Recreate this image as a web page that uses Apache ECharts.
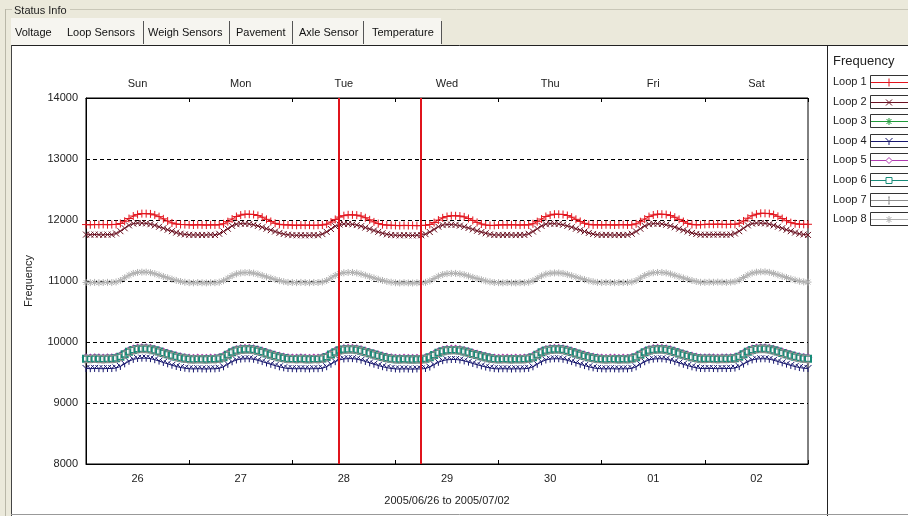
<!DOCTYPE html>
<html>
<head>
<meta charset="utf-8">
<script src="https://cdn.jsdelivr.net/npm/echarts@6/dist/echarts.min.js"></script>
<style>
html,body{margin:0;padding:0;background:#ebe9db;}
#chart{width:908px;height:516px;}
</style>
</head>
<body>
<div id="chart"></div>
<script>
// ---------- data ----------
const dateLabels = ['26','27','28','29','30','01','02'];
const dayNames = ['Sun','Mon','Tue','Wed','Thu','Fri','Sat'];
const rangeLabel = '2005/06/26 to 2005/07/02';
const yTitle = 'Frequency';
const legendTitle = 'Frequency';
const tabNames = ['Voltage','Loop Sensors','Weigh Sensors','Pavement','Axle Sensor','Temperature'];
const groupTitle = 'Status Info';
const markerTimes = [58.9, 77.9]; // hours from 2005/06/26 00:00
const seriesNames = ['Loop 1','Loop 2','Loop 3','Loop 4','Loop 5','Loop 6','Loop 7','Loop 8'];

// hourly samples, 2005/06/26 00:00 .. 2005/07/03 00:00
const loop1 = [
11925,11922,11926,11924,11927,11923,11925,11928,11943,11979,12024,12065,12091,12105,12104,12100,12083,12055,12019,11983,11952,11934,11926,11924,
11921,11918,11922,11920,11917,11921,11919,11922,11938,11973,12016,12057,12081,12095,12094,12090,12074,12046,12011,11976,11946,11929,11921,11919,
11916,11913,11917,11914,11916,11912,11915,11918,11932,11966,12009,12048,12071,12085,12084,12080,12065,12037,12003,11969,11941,11924,11916,11914,
11911,11908,11912,11909,11911,11907,11910,11913,11926,11958,11998,12035,12057,12070,12069,12065,12051,12025,11993,11961,11934,11918,11911,11912,
11918,11921,11919,11922,11920,11917,11921,11919,11938,11973,12016,12057,12081,12095,12094,12090,12074,12046,12011,11976,11946,11929,11920,11922,
11919,11922,11920,11918,11921,11923,11919,11921,11937,11972,12015,12056,12082,12096,12095,12089,12073,12045,12010,11975,11945,11928,11921,11923,
11928,11931,11929,11932,11930,11927,11931,11929,11948,11984,12029,12070,12096,12110,12109,12105,12088,12060,12024,11988,11957,11939,11931,11929,
11930];
const loop2 = [
11761,11758,11762,11759,11757,11761,11760,11779,11817,11865,11912,11941,11950,11949,11944,11931,11912,11889,11865,11840,11817,11794,11775,11764,
11757,11754,11756,11753,11755,11758,11754,11774,11811,11857,11903,11931,11940,11939,11934,11922,11903,11881,11857,11833,11811,11788,11770,11759,
11752,11749,11751,11748,11750,11753,11749,11769,11806,11852,11898,11926,11935,11934,11929,11917,11898,11876,11852,11828,11806,11783,11765,11754,
11751,11748,11752,11749,11747,11751,11750,11768,11803,11846,11890,11916,11925,11924,11920,11908,11890,11869,11846,11824,11803,11782,11764,11754,
11756,11753,11757,11754,11752,11756,11755,11774,11811,11857,11903,11931,11940,11939,11934,11922,11903,11881,11857,11833,11811,11788,11770,11758,
11754,11757,11755,11752,11756,11754,11757,11774,11811,11857,11903,11931,11940,11939,11934,11922,11903,11881,11857,11833,11811,11788,11770,11759,
11758,11761,11759,11762,11760,11757,11761,11779,11817,11865,11912,11941,11950,11949,11944,11931,11912,11889,11865,11840,11817,11794,11775,11763,
11755];
const loop3 = [
9736,9734,9737,9735,9733,9736,9735,9743,9768,9808,9850,9879,9894,9899,9899,9891,9874,9853,9831,9809,9788,9768,9752,9740,
9731,9729,9732,9730,9728,9731,9730,9738,9762,9802,9842,9871,9885,9890,9890,9882,9866,9845,9823,9802,9781,9762,9746,9735,
9733,9731,9734,9732,9729,9733,9732,9740,9764,9804,9844,9873,9887,9892,9892,9884,9868,9847,9825,9804,9783,9764,9748,9737,
9729,9727,9730,9728,9726,9729,9728,9736,9758,9796,9833,9860,9874,9878,9878,9871,9856,9836,9815,9796,9776,9758,9743,9733,
9730,9732,9730,9728,9731,9729,9732,9738,9762,9802,9842,9871,9885,9890,9890,9882,9866,9845,9823,9802,9781,9762,9746,9735,
9731,9729,9732,9730,9728,9731,9729,9738,9762,9802,9842,9871,9885,9890,9890,9882,9866,9845,9823,9802,9781,9762,9746,9736,
9734,9737,9735,9733,9736,9734,9737,9743,9768,9809,9851,9880,9895,9900,9900,9892,9875,9854,9831,9809,9788,9768,9752,9741,
9736];
const loop4 = [
9566,9563,9567,9564,9562,9566,9565,9574,9599,9642,9684,9715,9730,9735,9735,9727,9710,9687,9664,9642,9619,9599,9582,9570,
9561,9558,9562,9559,9557,9561,9560,9568,9593,9634,9676,9705,9720,9725,9725,9717,9700,9679,9656,9634,9613,9593,9577,9565,
9563,9560,9564,9561,9559,9563,9562,9570,9595,9636,9678,9707,9722,9727,9727,9719,9702,9681,9658,9636,9615,9595,9579,9567,
9559,9556,9560,9557,9555,9559,9558,9566,9589,9628,9667,9694,9708,9713,9713,9705,9690,9670,9648,9628,9608,9589,9574,9563,
9559,9562,9560,9557,9561,9559,9562,9568,9593,9634,9676,9705,9720,9725,9725,9717,9700,9679,9656,9634,9613,9593,9577,9565,
9561,9558,9562,9560,9557,9561,9559,9568,9593,9634,9676,9705,9720,9725,9725,9717,9700,9679,9656,9634,9613,9593,9577,9566,
9564,9567,9565,9562,9566,9564,9567,9573,9597,9637,9677,9706,9720,9725,9725,9717,9701,9680,9658,9637,9616,9597,9581,9570,
9566];
const loop5 = [
9744,9741,9745,9742,9740,9744,9743,9751,9776,9817,9859,9888,9903,9908,9908,9900,9883,9862,9839,9817,9796,9776,9760,9748,
9739,9736,9740,9737,9735,9739,9738,9746,9770,9810,9850,9879,9893,9898,9898,9890,9874,9853,9831,9810,9789,9770,9754,9743,
9741,9738,9742,9739,9737,9741,9740,9748,9772,9812,9852,9881,9895,9900,9900,9892,9876,9855,9833,9812,9791,9772,9756,9745,
9737,9734,9738,9735,9733,9737,9736,9744,9766,9804,9841,9868,9882,9886,9886,9879,9864,9844,9823,9804,9784,9766,9751,9741,
9737,9740,9738,9735,9739,9737,9740,9746,9770,9810,9850,9879,9893,9898,9898,9890,9874,9853,9831,9810,9789,9770,9754,9743,
9739,9736,9740,9738,9735,9739,9737,9746,9770,9810,9850,9879,9893,9898,9898,9890,9874,9853,9831,9810,9789,9770,9754,9744,
9742,9745,9743,9740,9744,9742,9745,9751,9776,9817,9859,9888,9903,9908,9908,9900,9883,9862,9839,9817,9796,9776,9760,9749,
9744];
const loop6 = [
9726,9723,9727,9724,9722,9726,9725,9733,9758,9799,9841,9870,9885,9890,9890,9882,9865,9844,9821,9799,9778,9758,9742,9730,
9721,9718,9722,9719,9717,9721,9720,9728,9752,9792,9832,9861,9875,9880,9880,9872,9856,9835,9813,9792,9771,9752,9736,9725,
9723,9720,9724,9721,9719,9723,9722,9730,9754,9794,9834,9863,9877,9882,9882,9874,9858,9837,9815,9794,9773,9754,9738,9727,
9719,9716,9720,9717,9715,9719,9718,9726,9748,9786,9823,9850,9864,9868,9868,9861,9846,9826,9805,9786,9766,9748,9733,9723,
9719,9722,9720,9717,9721,9719,9722,9728,9752,9792,9832,9861,9875,9880,9880,9872,9856,9835,9813,9792,9771,9752,9736,9725,
9721,9718,9722,9720,9717,9721,9719,9728,9752,9792,9832,9861,9875,9880,9880,9872,9856,9835,9813,9792,9771,9752,9736,9726,
9724,9727,9725,9722,9726,9724,9727,9733,9758,9799,9841,9870,9885,9890,9890,9882,9865,9844,9821,9799,9778,9758,9742,9731,
9726];
const loop7 = [
9721,9718,9722,9719,9717,9721,9720,9728,9753,9794,9836,9865,9880,9885,9885,9877,9860,9839,9816,9794,9773,9753,9737,9725,
9716,9713,9717,9714,9712,9716,9715,9723,9747,9787,9827,9856,9870,9875,9875,9867,9851,9830,9808,9787,9766,9747,9731,9720,
9718,9715,9719,9716,9714,9718,9717,9725,9749,9789,9829,9858,9872,9877,9877,9869,9853,9832,9810,9789,9768,9749,9733,9722,
9714,9711,9715,9712,9710,9714,9713,9721,9743,9781,9818,9845,9859,9863,9863,9856,9841,9821,9800,9781,9761,9743,9728,9718,
9714,9717,9715,9712,9716,9714,9717,9723,9747,9787,9827,9856,9870,9875,9875,9867,9851,9830,9808,9787,9766,9747,9731,9720,
9716,9713,9717,9715,9712,9716,9714,9723,9747,9787,9827,9856,9870,9875,9875,9867,9851,9830,9808,9787,9766,9747,9731,9721,
9719,9722,9720,9717,9721,9719,9722,9728,9753,9794,9836,9865,9880,9885,9885,9877,9860,9839,9816,9794,9773,9753,9737,9726,
9721];
const loop8 = [
10976,10973,10977,10972,10975,10978,10974,10984,11009,11052,11094,11125,11140,11145,11145,11137,11120,11097,11074,11052,11029,11009,10992,10980,
10973,10970,10974,10971,10969,10973,10972,10980,11005,11046,11088,11117,11132,11137,11137,11129,11112,11091,11068,11046,11025,11005,10989,10977,
10976,10973,10977,10974,10972,10976,10975,10983,11008,11049,11091,11120,11135,11140,11140,11132,11115,11094,11071,11049,11028,11008,10992,10980,
10971,10968,10972,10969,10967,10971,10970,10978,11001,11040,11079,11106,11120,11125,11125,11117,11102,11082,11060,11040,11020,11001,10986,10975,
10973,10970,10974,10971,10969,10973,10972,10980,11004,11044,11084,11113,11127,11132,11132,11124,11108,11087,11065,11044,11023,11004,10988,10977,
10974,10977,10975,10972,10976,10974,10977,10983,11008,11049,11091,11120,11135,11140,11140,11132,11115,11094,11071,11049,11028,11008,10992,10979,
10978,10981,10979,10982,10980,10977,10981,10989,11014,11057,11099,11130,11145,11150,11150,11142,11125,11102,11079,11057,11034,11014,10997,10985,
10982];
const seriesValues = [loop1, loop2, loop3, loop4, loop5, loop6, loop7, loop8];

// ---------- styles ----------
const FONT = '"Liberation Sans", Arial, sans-serif';
const colors = ['#e3141d','#6a1020','#1f9a3a','#16166e','#b03cb0','#178b78','#8e8e8e','#b0b0b0'];
const markSymbols = [
  'path://M0,5L10,5M5,0L5,10',
  'path://M0,0L10,10M10,0L0,10',
  'path://M0,5L10,5M5,0L5,10M1.5,1.5L8.5,8.5M8.5,1.5L1.5,8.5',
  'path://M0,0L5,5M10,0L5,5M5,5L5,10',
  'emptyDiamond',
  'emptyRect',
  'path://M3,0L7,0M5,0L5,10M3,10L7,10',
  'path://M0,5L10,5M5,0L5,10M1.5,1.5L8.5,8.5M8.5,1.5L1.5,8.5'
];
const markSizes = [8, 6, 7, 7, 6, 6, [4,7], 7];
// legend glyph strokes in a 0..10 box
const glyphSegs = [
  [[0,5,10,5],[5,0,5,10]],
  [[0,0,10,10],[10,0,0,10]],
  [[0,5,10,5],[5,0,5,10],[1.5,1.5,8.5,8.5],[8.5,1.5,1.5,8.5]],
  [[0,0,5,5],[10,0,5,5],[5,5,5,10]],
  null, null,
  [[3,0,7,0],[5,0,5,10],[3,10,7,10]],
  [[0,5,10,5],[5,0,5,10],[1.5,1.5,8.5,8.5],[8.5,1.5,1.5,8.5]]
];

const chart = echarts.init(document.getElementById('chart'), null, {renderer:'canvas'});

const series = seriesValues.map((vals, k) => {
  const s = {
    name: seriesNames[k],
    type: 'line',
    xAxisIndex: 0,
    yAxisIndex: 0,
    data: vals.map((v, i) => [i, v]),
    symbol: markSymbols[k],
    symbolSize: markSizes[k],
    showAllSymbol: true,
    lineStyle: {color: colors[k], width: 1},
    itemStyle: {color: colors[k], borderColor: colors[k], borderWidth: 1},
    emphasis: {disabled: true},
    silent: true,
    z: 2
  };
  if (k === seriesValues.length - 1) {
    s.markLine = {
      silent: true,
      symbol: ['none','none'],
      label: {show: false},
      lineStyle: {color: '#e0141c', width: 2, type: 'solid'},
      emphasis: {disabled: true},
      data: markerTimes.map(t => ({xAxis: t}))
    };
  }
  return s;
});

// ---------- window chrome & legend (graphic) ----------
const g = [];
g.push({type:'rect', z:-20, shape:{x:0,y:0,width:908,height:516}, style:{fill:'#ebe9db'}});
g.push({type:'line', z:-19, shape:{x1:5,y1:9.5,x2:908,y2:9.5}, style:{stroke:'#c9c7b8', lineWidth:1}});
g.push({type:'line', z:-19, shape:{x1:5.5,y1:9,x2:5.5,y2:516}, style:{stroke:'#b9b7a8', lineWidth:1}});
g.push({type:'rect', z:-19, shape:{x:11,y:18,width:430,height:27}, style:{fill:'#f6f5f0'}});
g.push({type:'rect', z:-18, shape:{x:11,y:45,width:816,height:471}, style:{fill:'#ffffff'}});
g.push({type:'rect', z:-18, shape:{x:827,y:45,width:81,height:471}, style:{fill:'#ffffff'}});
g.push({type:'line', z:-17, shape:{x1:11,y1:45.5,x2:908,y2:45.5}, style:{stroke:'#222', lineWidth:1}});
g.push({type:'line', z:-17, shape:{x1:11.5,y1:45,x2:11.5,y2:516}, style:{stroke:'#444', lineWidth:1}});
g.push({type:'line', z:-17, shape:{x1:827.5,y1:45,x2:827.5,y2:516}, style:{stroke:'#222', lineWidth:1}});
g.push({type:'line', z:-17, shape:{x1:11,y1:514.5,x2:908,y2:514.5}, style:{stroke:'#999', lineWidth:1}});
g.push({type:'rect', z:-16, shape:{x:12,y:4,width:58,height:12}, style:{fill:'#ebe9db'}});
g.push({type:'text', z:-15, x:14, y:11, style:{text:groupTitle, fill:'#222', font:'11px '+FONT, verticalAlign:'middle'}});
const tabX = [15, 67, 148, 236, 299, 372];
const sepX = [143, 229, 292, 363, 441];
tabNames.forEach((t, i) => {
  g.push({type:'text', z:-15, x:tabX[i], y:33, style:{text:t, fill:'#111', font:'11px '+FONT, verticalAlign:'middle'}});
});
sepX.forEach(x => {
  g.push({type:'line', z:-15, shape:{x1:x+0.5,y1:21,x2:x+0.5,y2:44}, style:{stroke:'#555', lineWidth:1}});
});
// legend
g.push({type:'text', z:10, x:833, y:61, style:{text:legendTitle, fill:'#222', font:'13px '+FONT, verticalAlign:'middle'}});
seriesNames.forEach((nm, k) => {
  const cy = Math.round(82 + 19.6 * k);
  g.push({type:'text', z:10, x:833, y:cy, style:{text:nm, fill:'#222', font:'11px '+FONT, verticalAlign:'middle'}});
  g.push({type:'rect', z:10, shape:{x:870.5,y:cy-6.5,width:50,height:13}, style:{fill:'#fff', stroke:'#333', lineWidth:1}});
  g.push({type:'line', z:11, shape:{x1:871,y1:cy+0.5,x2:908,y2:cy+0.5}, style:{stroke:colors[k], lineWidth:1}});
  const sz = Array.isArray(markSizes[k]) ? markSizes[k] : [markSizes[k], markSizes[k]];
  const x0 = 889 - sz[0]/2, y0 = cy + 0.5 - sz[1]/2;
  if (glyphSegs[k]) {
    glyphSegs[k].forEach(s => {
      g.push({type:'line', z:12, shape:{x1:x0+s[0]*sz[0]/10, y1:y0+s[1]*sz[1]/10, x2:x0+s[2]*sz[0]/10, y2:y0+s[3]*sz[1]/10},
        style:{stroke:colors[k], lineWidth:1}});
    });
  } else if (k === 4) {
    g.push({type:'polygon', z:12, shape:{points:[[889, y0],[889+sz[0]/2, cy+0.5],[889, y0+sz[1]],[889-sz[0]/2, cy+0.5]]},
      style:{fill:'#fff', stroke:colors[k], lineWidth:1}});
  } else {
    g.push({type:'rect', z:12, shape:{x:x0, y:y0, width:sz[0], height:sz[1]},
      style:{fill:'#fff', stroke:colors[k], lineWidth:1}});
  }
});

const axisText = {color:'#222', fontSize:11, fontFamily:FONT};

chart.setOption({
  animation: false,
  backgroundColor: 'transparent',
  textStyle: {fontFamily: FONT},
  grid: {left:86, right:100, top:98, bottom:52, show:true, backgroundColor:'#fff', borderColor:'#000', borderWidth:1, containLabel:false},
  xAxis: [
    {type:'value', min:0, max:168, interval:24, show:false},
    {type:'category', data:dateLabels, position:'bottom', boundaryGap:true,
     axisLine:{show:true, lineStyle:{color:'#000', width:1}},
     axisTick:{show:true, inside:true, length:4, lineStyle:{color:'#000'}},
     axisLabel:Object.assign({margin:9, interval:0}, axisText),
     splitLine:{show:false},
     name:rangeLabel, nameLocation:'middle', nameGap:31, nameTextStyle:axisText},
    {type:'category', data:dayNames, position:'top', boundaryGap:true,
     axisLine:{show:true, lineStyle:{color:'#000', width:1}},
     axisTick:{show:true, inside:true, length:4, lineStyle:{color:'#000'}},
     axisLabel:Object.assign({margin:9, interval:0}, axisText),
     splitLine:{show:false}}
  ],
  yAxis: [{
    type:'value', min:8000, max:14000, interval:1000,
    axisLine:{show:true, lineStyle:{color:'#000', width:1}},
    axisTick:{show:false},
    axisLabel:Object.assign({margin:8, formatter: v => String(v)}, axisText),
    splitLine:{show:true, lineStyle:{color:'#000', width:1, type:[4,3]}},
    name:yTitle, nameLocation:'middle', nameGap:52, nameRotate:90,
    nameTextStyle:Object.assign({padding:[0,0,0,0]}, axisText)
  }],
  graphic: {elements: g},
  series: series
});
</script>
</body>
</html>
